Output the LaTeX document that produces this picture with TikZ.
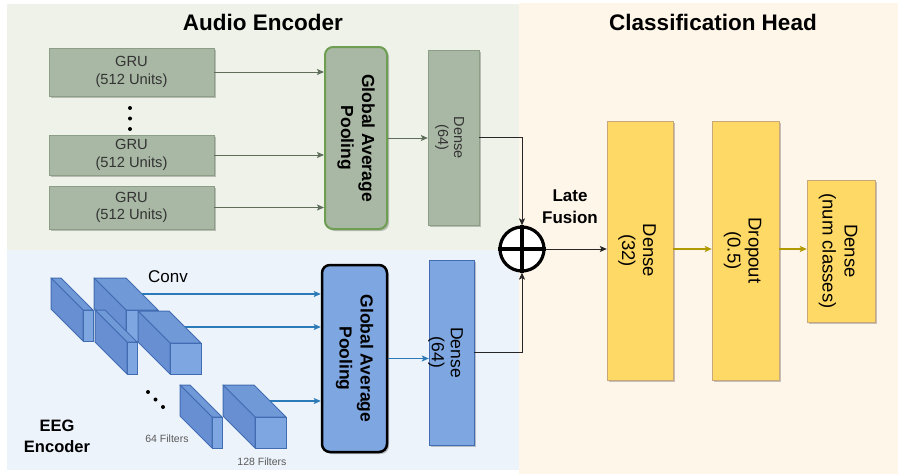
\documentclass[tikz,border=0pt]{standalone}
\usepackage{fontspec}
\setmainfont{Liberation Sans}
\usetikzlibrary{arrows.meta,shadows,calc}

\definecolor{audiobg}{HTML}{EEF2E9}
\definecolor{eegbg}{HTML}{EDF3FB}
\definecolor{headbg}{HTML}{FFF6EA}
\definecolor{grufill}{HTML}{A9B8A4}
\definecolor{grudraw}{HTML}{8C9E86}
\definecolor{gapgreen}{HTML}{6E9E52}
\definecolor{bluefill}{HTML}{7EA6E0}
\definecolor{bluedraw}{HTML}{416CB2}
\definecolor{blueside}{HTML}{678FD1}
\definecolor{bluetop}{HTML}{7099D8}
\definecolor{bluearrow}{HTML}{2C7BB8}
\definecolor{yelfill}{HTML}{FFD966}
\definecolor{yeldraw}{HTML}{C8A878}
\definecolor{olivearrow}{HTML}{B09A00}
\definecolor{audioarrow}{HTML}{5E6E5A}
\definecolor{txtgray}{HTML}{333333}

\newcommand\fsz[2]{\fontsize{#1}{#2}\selectfont}

% 3D convolution block: name, front-face top-left x, y, width, height
\newcommand\convblock[5]{%
  \coordinate (#1) at (#2,#3);
  \filldraw[fill=bluetop,draw=bluedraw,line width=1pt,line join=round]
    (#1) -- ++(#4,0) -- ++(-32,-32) -- ++(-#4,0) -- cycle;
  \filldraw[fill=blueside,draw=bluedraw,line width=1pt,line join=round]
    (#1) -- ++(-32,-32) -- ++(0,#5) -- ++(32,32) -- cycle;
  \filldraw[fill=bluefill,draw=bluedraw,line width=1pt] (#1) rectangle ++(#4,#5);
  \coordinate (#1-out) at ($(#1)+(#4,0)+(-16,-16)$);
}

\tikzset{
  boxshadow/.style={drop shadow={shadow xshift=2pt,shadow yshift=-2pt,opacity=0.22,fill=black}},
  grubox/.style={draw=grudraw,fill=grufill,boxshadow,minimum width=165pt,
    align=center,text=txtgray,font=\fsz{14.7}{17.6}},
  gapgreenbox/.style={draw=gapgreen,line width=2pt,fill=grufill,rounded corners=8pt,boxshadow},
  gapbluebox/.style={draw=black,line width=2.5pt,fill=bluefill,rounded corners=8pt,boxshadow},
  densegreen/.style={draw=grudraw,fill=grufill,boxshadow},
  denseblue/.style={draw=bluedraw,fill=bluefill,boxshadow},
  yelbox/.style={draw=yeldraw,fill=yelfill,boxshadow},
  vtext/.style={rotate=-90,align=center},
  tip/.style={-{Stealth[length=7pt,width=6pt,inset=1.5pt]}},
  garr/.style={tip,draw=audioarrow,line width=0.9pt},
  barr/.style={tip,draw=bluearrow,line width=1.1pt},
  karr/.style={tip,draw=black!85,line width=0.9pt},
  oarr/.style={tip,draw=olivearrow,line width=1.6pt},
  title/.style={font=\bfseries\fsz{22.5}{26}},
}

\begin{document}
\begin{tikzpicture}[x=1pt,y=-1pt]
  % canvas and the three panels
  \fill[white] (0,0) rectangle (898,474);
  \useasboundingbox (0,0) rectangle (898,474);
  \fill[audiobg] (7,4) rectangle (519,250);
  \fill[eegbg] (7,250) rectangle (519,470);
  \fill[headbg] (519,3) rectangle (898,474);

  \node[title] (titleA) at (263,22) {Audio Encoder};
  \node[title] (titleH) at (713,22) {Classification Head};

  % ---------- audio encoder ----------
  \node[grubox,minimum height=48pt] (gru1) at (131.5,72) {GRU\\(512 Units)};
  \node[grubox,minimum height=40pt] (gru2) at (131.5,155) {GRU\\(512 Units)};
  \node[grubox,minimum height=43pt] (gru3) at (131.5,207.5) {GRU\\(512 Units)};
  \foreach \yy in {108,118.5,129} \fill[black] (130,\yy) circle (2pt);

  \node[gapgreenbox,minimum width=62pt,minimum height=182pt] (gapA) at (356,138) {};
  \node[vtext,font=\bfseries\fsz{17.5}{21}] (gapAtxt) at (gapA.center) {Global Average\\Pooling};

  \node[densegreen,minimum width=51pt,minimum height=175pt] (denseA) at (453.5,137.5) {};
  \node[vtext,text=txtgray,font=\fsz{14.5}{16}] (denseAtxt) at ($(denseA.center)+(-4,0)$) {Dense\\(64)};

  \draw[garr] (gru1.east) -- (gru1.east -| gapA.west);
  \draw[garr] (gru2.east) -- (gru2.east -| gapA.west);
  \draw[garr] (gru3.east) -- (gru3.east -| gapA.west);
  \draw[garr] (gapA.east) -- (gapA.east -| denseA.west);

  % ---------- EEG encoder ----------
  \convblock{cA}{83}{310}{10}{31}
  \convblock{cB}{126}{310}{32}{31}
  \convblock{cC}{127}{342}{10}{32}
  \convblock{cD}{170}{343}{31}{31}
  \convblock{cE}{212}{417}{10}{31}
  \convblock{cF}{255}{417}{31}{31}

  \node[font=\fsz{17}{20}] (convlbl) at (168,277) {Conv};
  \foreach \px/\py in {148/392,155.5/399.5,163/407} \fill[black] (\px,\py) circle (2pt);
  \node[font=\bfseries\fsz{16.5}{21}, align=center] (eeglbl) at (57,436) {EEG\\Encoder};
  \node[text=black!65,font=\fsz{10.5}{12}] (f64) at (167,439) {64 Filters};
  \node[text=black!65,font=\fsz{10.5}{12}] (f128) at (262,462) {128 Filters};

  \node[gapbluebox,minimum width=65pt,minimum height=187pt] (gapE) at (354.5,358.5) {};
  \node[vtext,font=\bfseries\fsz{17.5}{21}] (gapEtxt) at (gapE.center) {Global Average\\Pooling};

  \node[denseblue,minimum width=45pt,minimum height=185pt] (denseE) at (451.5,352.5) {};
  \node[vtext,font=\fsz{17.5}{19}] (denseEtxt) at ($(denseE.center)+(-6,0)$) {Dense\\(64)};

  \draw[barr] (cB-out) -- (cB-out -| gapE.west);
  \draw[barr] (cD-out) -- (cD-out -| gapE.west);
  \draw[barr] (cF-out) -- (cF-out -| gapE.west);
  \draw[barr] (gapE.east) -- (gapE.east -| denseE.west);

  % ---------- late fusion ----------
  \node[circle,draw=black,fill=white,line width=3.2pt,minimum size=44pt,inner sep=0pt] (fuse) at (522,249) {};
  \draw[line width=3.2pt] (fuse.north) -- (fuse.south) (fuse.west) -- (fuse.east);
  \node[font=\bfseries\fsz{17}{22},align=center] (fusionlbl) at (570,207) {Late\\Fusion};

  \draw[karr] (denseA.east) -| (fuse.north);
  \draw[karr] (denseE.east) -| (fuse.south);

  % ---------- classification head ----------
  \node[yelbox,minimum width=66pt,minimum height=259pt] (d32) at (640,250.5) {};
  \node[vtext,font=\fsz{18.5}{21}] (d32txt) at ($(d32.center)+(-3,0)$) {Dense\\(32)};
  \node[yelbox,minimum width=67pt,minimum height=259pt] (drop) at (745.5,250.5) {};
  \node[vtext,font=\fsz{18.5}{21}] (droptxt) at ($(drop.center)+(-3,0)$) {Dropout\\(0.5)};
  \node[yelbox,minimum width=68pt,minimum height=142pt] (dnc) at (841,251) {};
  \node[vtext,font=\fsz{18.5}{22}] (dnctxt) at ($(dnc.center)+(-3,0)$) {Dense\\(num classes)};

  \draw[karr] (fuse.east) -- (fuse.east -| d32.west);
  \draw[oarr] (d32.east |- fuse.east) -- (drop.west |- fuse.east);
  \draw[oarr] (drop.east |- fuse.east) -- (dnc.west |- fuse.east);
\end{tikzpicture}
\end{document}
